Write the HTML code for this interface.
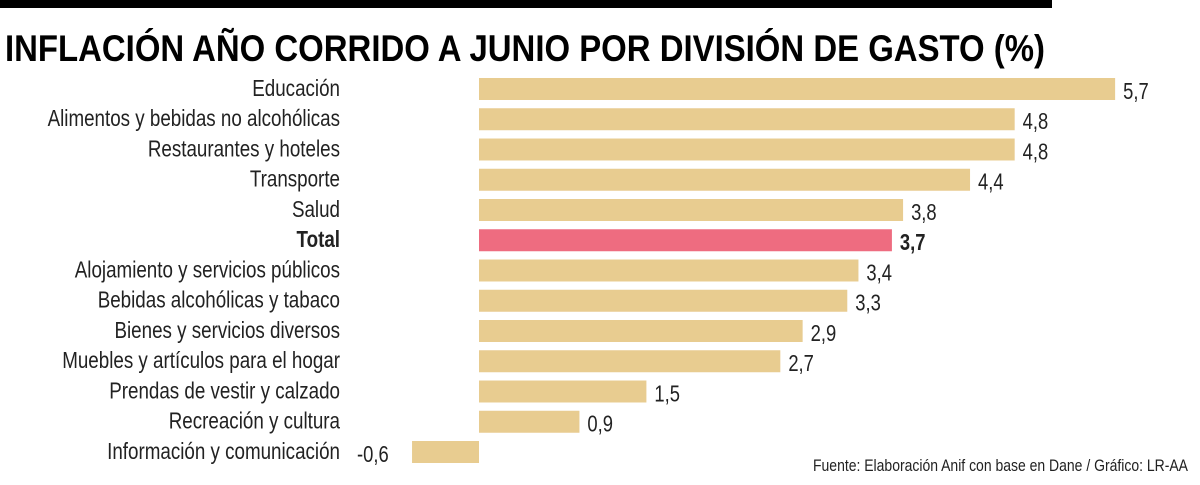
<!DOCTYPE html>
<html><head><meta charset="utf-8"><style>
html,body{margin:0;padding:0;background:#fff;}
svg{display:block;font-family:"Liberation Sans Narrow","Liberation Sans",sans-serif;}
</style></head><body>
<svg id="chart" width="1200" height="485" viewBox="0 0 1200 485">
<rect x="0" y="0" width="1052" height="8" fill="#000"/>
<text x="5" y="61" font-size="37" font-weight="bold" textLength="1040" lengthAdjust="spacingAndGlyphs" font-family="Liberation Sans, sans-serif" fill="#000">INFLACIÓN AÑO CORRIDO A JUNIO POR DIVISIÓN DE GASTO (%)</text>
<g id="bars"></g>
<text x="813" y="471" font-size="17" textLength="375" lengthAdjust="spacingAndGlyphs" fill="#222">Fuente: Elaboración Anif con base en Dane / Gráfico: LR-AA</text>
</svg>
<script>
const categories = ["Educación","Alimentos y bebidas no alcohólicas","Restaurantes y hoteles","Transporte","Salud","Total","Alojamiento y servicios públicos","Bebidas alcohólicas y tabaco","Bienes y servicios diversos","Muebles y artículos para el hogar","Prendas de vestir y calzado","Recreación y cultura","Información y comunicación"];
const values = [5.7,4.8,4.8,4.4,3.8,3.7,3.4,3.3,2.9,2.7,1.5,0.9,-0.6];
const valueLabels = ["5,7","4,8","4,8","4,4","3,8","3,7","3,4","3,3","2,9","2,7","1,5","0,9","-0,6"];
const highlight = "Total";

const NS="http://www.w3.org/2000/svg";
const x0=479, scale=111.6;
function xScale(v){return x0+v*scale;}
function yCenter(i){return 89+i*30.25;}
const g=document.getElementById('bars');
function mk(t,attrs){const e=document.createElementNS(NS,t);for(const k in attrs)e.setAttribute(k,attrs[k]);return e;}
categories.forEach((c,i)=>{
  const v=values[i], yc=yCenter(i), hl=c===highlight;
  const xa=xScale(Math.min(0,v)), xb=xScale(Math.max(0,v));
  const r=mk('rect',{x:xa,y:yc-11,width:xb-xa,height:22,fill:hl?'#ee6c80':'#e8cc90'});
  
  
  g.appendChild(r);
  const lab=mk('text',{x:340/0.8,y:yc+7,'text-anchor':'end','font-size':23.5,fill:'#222',transform:'scale(0.8,1)','font-weight':hl?'bold':'normal'});
  lab.textContent=c;
  
  
  g.appendChild(lab);
  let vx = v>=0 ? xb+8 : 357;
  const vl=mk('text',{x:vx/0.8,y:yc+10,'font-size':23,fill:'#222',transform:'scale(0.8,1)','font-weight':hl?'bold':'normal'});
  vl.textContent=valueLabels[i];
  
  
  g.appendChild(vl);
});
</script>
</body></html>
